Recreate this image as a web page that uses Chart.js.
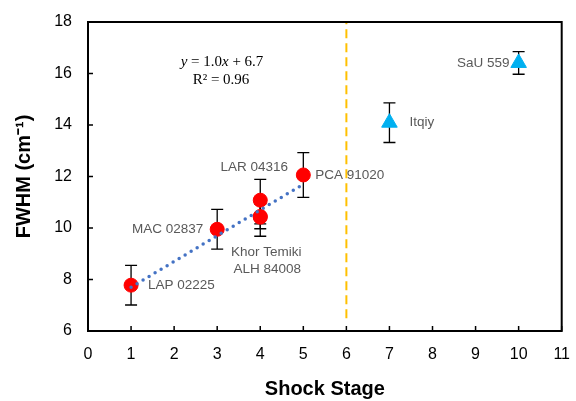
<!DOCTYPE html>
<html>
<head>
<meta charset="utf-8">
<script src="https://cdn.jsdelivr.net/npm/chart.js@4"></script>
<style>
  html, body { margin: 0; padding: 0; background: #fff; }
</style>
</head>
<body>
<canvas id="fwhmChart" width="576" height="401"></canvas>
<script>
// shock stage vs FWHM data
let shockStage = [1, 3, 4, 4, 4, 5];
let fwhm = [7.78, 9.95, 11.08, 10.45, 10.42, 12.06];
let errPlus = [0.77, 0.77, 0.81, 0.48, 0.74, 0.87];
let errMinus = [0.77, 0.77, 0.92, 0.48, 0.74, 0.87];
let names = ["LAP 02225", "MAC 02837", "LAR 04316", "Khor Temiki", "ALH 84008", "PCA 91020"];

// the two triangle points
let shockStage2 = [7, 10];
let fwhm2 = [14.09, 16.41];
let errPlus2 = [0.77, 0.44];
let errMinus2 = [0.77, 0.44];
let names2 = ["Itqiy", "SaU 559"];

// linear fit shown on the chart
let fitSlope = 1.0;
let fitIntercept = 6.7;
let fitRange = [1, 5];

// dashed boundary line
let boundaryX = 6;
let boundaryY = [6.5, 18];

let xTicks = [0, 1, 2, 3, 4, 5, 6, 7, 8, 9, 10, 11];
let yTicks = [6, 8, 10, 12, 14, 16, 18];

function toPoints(xs, ys) {
  return xs.map(function (x, i) { return { x: x, y: ys[i] }; });
}

let labelFont = "13.5px 'Liberation Sans', Arial, sans-serif";

// where each label sits relative to its point (pixels)
let labelPlace = {
  "LAP 02225": [17, 0, "left"],
  "MAC 02837": [-14, 0, "right"],
  "LAR 04316": [-6, -33, "center"],
  "Khor Temiki": [6, 36, "center"],
  "ALH 84008": [7, 52, "center"],
  "PCA 91020": [12, 0, "left"],
  "Itqiy": [20, 0, "left"],
  "SaU 559": [-9, 0, "right"]
};

// error bars, drawn under the markers
let errorBars = {
  id: "errorBars",
  beforeDatasetsDraw: function (chart) {
    let ctx = chart.ctx;
    let xs = chart.scales.x;
    let ys = chart.scales.y;
    ctx.save();
    ctx.strokeStyle = "#000";
    ctx.lineWidth = 1.3;
    let draw = function (x, y, p, m) {
      let px = xs.getPixelForValue(x);
      let top = ys.getPixelForValue(y + p);
      let bot = ys.getPixelForValue(y - m);
      ctx.beginPath();
      ctx.moveTo(px, top); ctx.lineTo(px, bot);
      ctx.moveTo(px - 6, top); ctx.lineTo(px + 6, top);
      ctx.moveTo(px - 6, bot); ctx.lineTo(px + 6, bot);
      ctx.stroke();
    };
    shockStage.forEach(function (x, i) { draw(x, fwhm[i], errPlus[i], errMinus[i]); });
    shockStage2.forEach(function (x, i) { draw(x, fwhm2[i], errPlus2[i], errMinus2[i]); });
    ctx.restore();
  }
};

// frame, inward ticks, point labels, fit equation
let decorations = {
  id: "decorations",
  afterDraw: function (chart) {
    let ctx = chart.ctx;
    let a = chart.chartArea;
    let xs = chart.scales.x;
    let ys = chart.scales.y;
    ctx.save();
    ctx.strokeStyle = "#000";
    ctx.lineWidth = 2;
    ctx.strokeRect(a.left, a.top, a.right - a.left, a.bottom - a.top);

    ctx.lineWidth = 1.5;
    ctx.beginPath();
    xTicks.forEach(function (t) {
      let px = xs.getPixelForValue(t);
      ctx.moveTo(px, a.bottom); ctx.lineTo(px, a.bottom - 5);
    });
    yTicks.forEach(function (t) {
      let py = ys.getPixelForValue(t);
      ctx.moveTo(a.left, py); ctx.lineTo(a.left + 5, py);
    });
    ctx.stroke();

    ctx.font = labelFont;
    ctx.fillStyle = "#595959";
    ctx.textBaseline = "middle";
    let put = function (name, x, y) {
      let p = labelPlace[name];
      ctx.textAlign = p[2];
      ctx.fillText(name, xs.getPixelForValue(x) + p[0], ys.getPixelForValue(y) + p[1]);
    };
    shockStage.forEach(function (x, i) { put(names[i], x, fwhm[i]); });
    shockStage2.forEach(function (x, i) { put(names2[i], x, fwhm2[i]); });

    // fit equation, Excel style
    ctx.fillStyle = "#000";
    ctx.textAlign = "left";
    let parts = [["y", true], [" = 1.0", false], ["x", true], [" + 6.7", false]];
    let total = 0;
    parts.forEach(function (pt) {
      ctx.font = (pt[1] ? "italic " : "") + "15px 'Liberation Serif', 'Times New Roman', serif";
      total += ctx.measureText(pt[0]).width;
    });
    let cx = 222;
    let x0 = cx - total / 2;
    parts.forEach(function (pt) {
      ctx.font = (pt[1] ? "italic " : "") + "15px 'Liberation Serif', 'Times New Roman', serif";
      ctx.fillText(pt[0], x0, 62);
      x0 += ctx.measureText(pt[0]).width;
    });
    ctx.font = "15px 'Liberation Serif', 'Times New Roman', serif";
    ctx.textAlign = "center";
    ctx.fillText("R\u00b2 = 0.96", 221, 80);
    ctx.restore();
  }
};

function initChart() {
  let canvas = document.getElementById("fwhmChart");
  if (!canvas) {
    return;
  }
  let ctx = canvas.getContext("2d");

  new Chart(ctx, {
    type: "scatter",
    data: {
      datasets: [
        {
          type: "line",
          data: fitRange.map(function (x) { return { x: x, y: fitSlope * x + fitIntercept }; }),
          borderColor: "#4472C4",
          borderWidth: 3.5,
          borderDash: [0, 7],
          borderCapStyle: "round",
          pointRadius: 0,
          order: 0
        },
        {
          data: toPoints(shockStage, fwhm),
          pointStyle: "circle",
          pointRadius: 7,
          backgroundColor: "#FF0000",
          borderColor: "#FF0000",
          order: 1
        },
        {
          data: toPoints(shockStage2, fwhm2),
          pointStyle: "triangle",
          pointRadius: 9,
          backgroundColor: "#00B0F0",
          borderColor: "#00B0F0",
          order: 1
        },
        {
          type: "line",
          data: boundaryY.map(function (y) { return { x: boundaryX, y: y }; }),
          borderColor: "#FFC000",
          borderWidth: 2,
          borderDash: [9, 5],
          pointRadius: 0,
          order: 2
        }
      ]
    },
    options: {
      responsive: false,
      devicePixelRatio: 1,
      animation: false,
      layout: {
        padding: { left: 8, right: 5, top: 22, bottom: 0 }
      },
      plugins: {
        legend: { display: false },
        tooltip: { enabled: false }
      },
      scales: {
        x: {
          type: "linear",
          min: 0,
          max: 11,
          afterBuildTicks: function (s) { s.ticks = xTicks.map(function (v) { return { value: v }; }); },
          afterFit: function (s) { s.height = 70; },
          grid: { display: false },
          border: { display: false },
          ticks: {
            padding: 6,
            color: "#000",
            font: { family: "'Liberation Sans', Arial, sans-serif", size: 16 }
          },
          title: {
            display: true,
            text: "Shock Stage",
            color: "#000",
            padding: { top: 0, bottom: 0 },
            font: { family: "'Liberation Sans', Arial, sans-serif", size: 20, weight: "bold" }
          }
        },
        y: {
          type: "linear",
          min: 6,
          max: 18,
          afterBuildTicks: function (s) { s.ticks = yTicks.map(function (v) { return { value: v }; }); },
          afterFit: function (s) { s.width = 80; },
          grid: { display: false },
          border: { display: false },
          ticks: {
            padding: 8,
            color: "#000",
            font: { family: "'Liberation Sans', Arial, sans-serif", size: 16 }
          },
          title: {
            display: true,
            text: "FWHM (cm\u207b\u00b9)",
            color: "#000",
            padding: { top: 4, bottom: 0 },
            font: { family: "'Liberation Sans', Arial, sans-serif", size: 20, weight: "bold" }
          }
        }
      }
    },
    plugins: [errorBars, decorations]
  });
}

initChart();
</script>
</body>
</html>
